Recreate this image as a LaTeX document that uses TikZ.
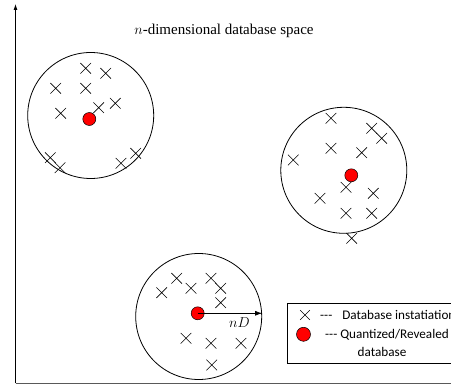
\documentclass[tikz,border=0pt]{standalone}
\usepackage{fontspec}
\setmainfont{Liberation Serif}
\newfontfamily\legendfont{Carlito}
\usetikzlibrary{shapes.misc,arrows.meta}
\begin{document}
\begin{tikzpicture}[x=1pt,y=-1pt,
  xmark/.style={cross out, draw, line width=0.6pt, minimum size=10pt, inner sep=0pt},
  ring/.style={circle, draw, line width=0.8pt, minimum size=126pt, inner sep=0pt},
  dot/.style={circle, draw, fill=red, line width=0.5pt, minimum size=13pt, inner sep=0pt},
  legtext/.style={font=\legendfont\fontsize{13.2}{15}\selectfont, inner sep=0pt}]
\useasboundingbox (0,0) rectangle (451,387);
\clip (0,0) rectangle (451,387);
% axes
\coordinate (o) at (15.5,383.5);
\coordinate (ytop) at (15.5,4);
\coordinate (xend) at (460,383.5);
\draw[-{Latex[length=6pt,width=4pt]}, line width=0.8pt] (o) -- (ytop);
\draw[line width=1.2pt, black!65] (o) -- (xend);
% title
\node (title) at (224,31) {\fontsize{15}{17}\selectfont $n$-dimensional database space};
% circle 1
\node[ring] (c1) at (90.7,115.5) {};
\foreach \x/\y [count=\i] in {85.7/68.3,105.7/73.3,55.7/88.3,85.7/88.3,60.7/113.3,98.7/107.7,115.3/103.3,50.3/157.7,60/167.7,121/163.3,135.7/153.3}
  \node[xmark] (a\i) at (\x,\y) {};
\node[dot] (d1) at (89.3,119) {};
% circle 2
\node[ring] (c2) at (343.8,170.3) {};
\foreach \x/\y [count=\i] in {331/118.3,371.7/128.3,381.7/138.3,331/148.3,361.7/152.7,293.3/160,346/187.3,320/198.3,373.3/193.3,346/213.3,371.7/213.3,351.7/238.3}
  \node[xmark] (b\i) at (\x,\y) {};
\node[dot] (d2) at (351.3,175.3) {};
% circle 3
\node[ring] (c3) at (198.7,316.5) {};
\foreach \x/\y [count=\i] in {176.7/278.3,161.7/292.7,191/288.3,211/278.3,220.7/288.3,220.7/302.7,186/338.3,211/343.3,241/343.3,211.7/365}
  \node[xmark] (e\i) at (\x,\y) {};
\node[dot] (d3) at (197.7,313.3) {};
\draw[-{Latex[length=7pt,width=5pt]}, line width=0.7pt] (d3.center) -- (d3.center -| c3.east);
\node (nd) at (239.5,322.5) {\fontsize{15}{17}\selectfont $nD$};
% legend
\node[draw, line width=0.7pt, rectangle, anchor=north west, minimum width=190pt, minimum height=60pt] (legend) at (287,303.3) {};
\node[xmark, minimum size=9pt] (lx) at (305,315) {};
\node[legtext, anchor=west] (lt1) at (320,315) {{-}{-}{-}\hspace{7pt} Database instatiation};
\node[dot, minimum size=14pt] (ld) at (303.5,334.3) {};
\node[legtext, anchor=west] (lt2) at (325,334.3) {{-}{-}{-} Quantized/Revealed};
\node[legtext] (lt3) at (382,351.5) {database};
\end{tikzpicture}
\end{document}
